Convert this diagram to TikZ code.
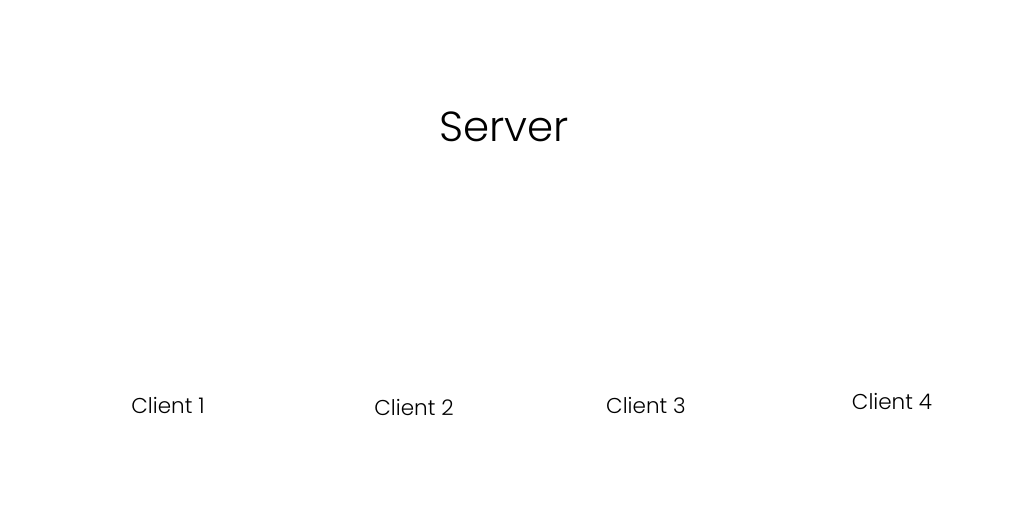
\documentclass[tikz,border=0pt]{standalone}
\usepackage{fontspec}
\setmainfont{Poppins Light}
\begin{document}
\begin{tikzpicture}[x=1pt,y=-1pt,
  lbl/.style={anchor=base,inner sep=0pt,text=black},
  srv/.style={lbl,font=\fontsize{42}{46}\selectfont},
  cli/.style={lbl,font=\fontsize{21.5}{24}\selectfont}]
\useasboundingbox (0,0) rectangle (1024,512);
\fill[white] (0,0) rectangle (1024,512);
\node[srv] (server) at (504,141) {Server};
\node[cli] (c1) at (168,413) {Client 1};
\node[cli] (c2) at (414,415) {Client 2};
\node[cli] (c3) at (646,413) {Client 3};
\node[cli] (c4) at (892,409) {Client 4};
\end{tikzpicture}
\end{document}
